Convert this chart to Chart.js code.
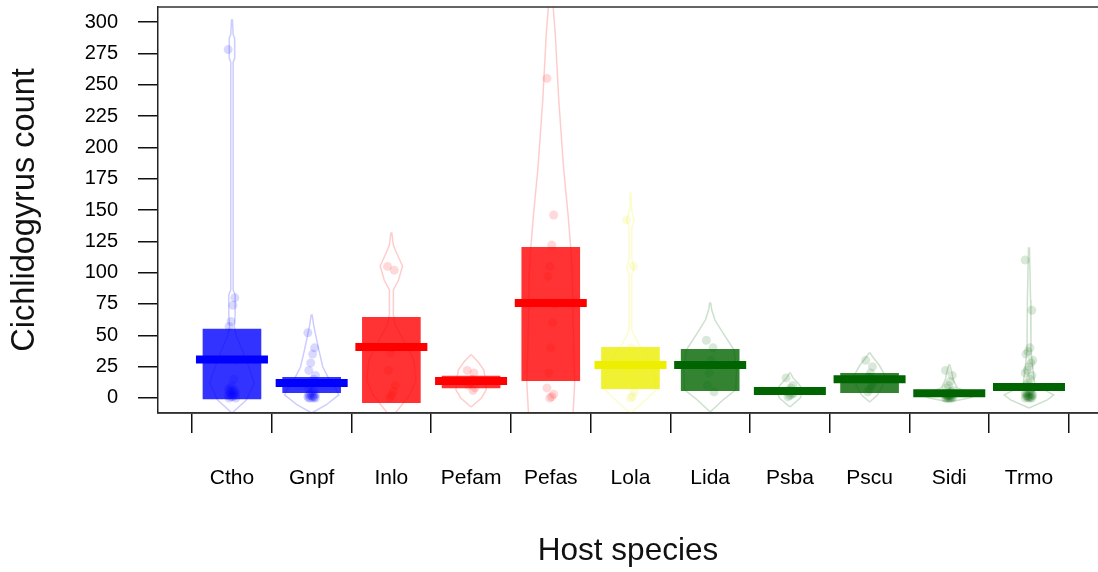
<!DOCTYPE html>
<html>
<head>
<meta charset="utf-8">
<script src="https://cdn.jsdelivr.net/npm/chart.js@4.4.1/dist/chart.umd.min.js"></script>
<style>
  html, body { margin: 0; padding: 0; background: #fff; }
  #wrap { width: 1098px; height: 572px; }
</style>
</head>
<body>
<div id="wrap"><canvas id="pirate"></canvas></div>
<script>
// host species (x categories)
const hosts = ['Ctho', 'Gnpf', 'Inlo', 'Pefam', 'Pefas', 'Lola', 'Lida', 'Psba', 'Pscu', 'Sidi', 'Trmo'];
const hostColor = ['blue', 'blue', 'red', 'red', 'red', 'yellow', 'green', 'green', 'green', 'green', 'green'];

// mean count and inference band per host
const means = [30.7, 12, 40.7, 13.6, 75.8, 26.3, 26.3, 5.6, 14.9, 3.7, 8.7];
const bandLow = [-0.8, 4.2, -3.7, 8, 13.8, 7.4, 5.8, 3.5, 4.2, 2, 6];
const bandHigh = [55, 16.4, 64.4, 17.5, 120.2, 40.4, 38.8, 7.5, 19.7, 5.5, 11];

// raw counts
const counts = [
	[278, 80, 74, 61, 57, 30, 15, 10, 8, 7, 6, 6, 5, 5, 4, 4, 3, 3, 2, 2, 1, 1, 0, 0],
	[52, 40, 35, 28, 22, 18, 15, 12, 10, 8, 6, 5, 4, 3, 3, 2, 2, 2, 1, 1, 1, 0, 0, 0, 0],
	[105, 102, 40, 36, 22, 10, 5, 2, 0],
	[22, 20, 15, 12, 10, 8, 6],
	[255, 146, 122, 105, 97, 75, 60, 40, 20, 8, 3, 1, 0],
	[142, 105, 40, 30, 20, 5, 1, 0],
	[46, 40, 30, 20, 10, 5],
	[16, 10, 8, 6, 5, 4, 3, 2, 1],
	[30, 25, 20, 17, 15, 12, 10, 7, 5],
	[22, 18, 13, 10, 8, 6, 5, 4, 3, 3, 3, 2, 2, 2, 1, 1, 1, 1, 0, 0, 0, 0, 0],
	[110, 70, 40, 37, 35, 30, 28, 25, 22, 20, 18, 15, 12, 10, 8, 6, 5, 4, 4, 3, 3, 2, 2, 2, 1, 1, 1, 0, 0, 0, 0]
];

// bean (density) outline: count levels and half width in category units
const beanLevels = [
	[-12, -1.6, 12, 24.7, 38.3, 50.3, 56.6, 66.2, 82.2, 86.2, 268, 271, 287, 290, 301.6],
	[-12, -5.6, 2.4, 10.4, 16, 24.7, 38.3, 50.3, 58.2, 66.2],
	[-16, -5.6, 2.4, 14.4, 30.3, 46.3, 58.2, 66.2, 86.2, 94.1, 105.3, 116.5, 122, 131.7],
	[-7.2, 0, 6.4, 14.4, 22.3, 28.7, 34.3],
	[-40, -12, 12, 60, 100, 120, 144, 184, 238, 291, 312, 330, 360],
	[-12, -5.6, 6.4, 22.3, 34.3, 42.3, 51.9, 54.3, 98, 104.5, 111.7, 135.6, 142, 150, 163.6],
	[-11.2, -1.6, 6.4, 22.3, 38.3, 51.9, 62.2, 70.2, 75.8],
	[-7.2, 0, 6.4, 12, 16, 20],
	[-3.2, 2.4, 10.4, 18.4, 26.3, 31.9, 35.9],
	[-3.2, 0, 2.4, 4.8, 8, 14.4, 22.3, 26.3],
	[-8, -1.6, 2.4, 6.4, 10.4, 22.3, 38.3, 78.2, 119.7]
];
const beanWidth = [
	[0, 0.18, 0.28, 0.21, 0.13, 0.05, 0.03, 0.04, 0.04, 0.015, 0.015, 0.034, 0.034, 0.015, 0.006],
	[0, 0.18, 0.34, 0.28, 0.21, 0.14, 0.09, 0.05, 0.025, 0.006],
	[0, 0.13, 0.23, 0.31, 0.28, 0.15, 0.05, 0.025, 0.025, 0.09, 0.14, 0.06, 0.025, 0.006],
	[0, 0.13, 0.19, 0.18, 0.16, 0.09, 0.006],
	[0.26, 0.28, 0.30, 0.28, 0.27, 0.25, 0.22, 0.16, 0.10, 0.056, 0.03, 0.02, 0],
	[0, 0.12, 0.32, 0.30, 0.20, 0.11, 0.03, 0.015, 0.015, 0.045, 0.015, 0.015, 0.045, 0.015, 0.006],
	[0, 0.16, 0.32, 0.33, 0.30, 0.16, 0.06, 0.02, 0.006],
	[0, 0.13, 0.17, 0.10, 0.04, 0.006],
	[0, 0.10, 0.17, 0.19, 0.12, 0.05, 0.006],
	[0, 0.25, 0.34, 0.25, 0.10, 0.05, 0.025, 0.006],
	[0, 0.23, 0.31, 0.19, 0.075, 0.05, 0.025, 0.02, 0.006]
];

const yTicks = [0, 25, 50, 75, 100, 125, 150, 175, 200, 225, 250, 275, 300];

const rgb = {
	blue: [0, 0, 255],
	red: [255, 0, 0],
	yellow: [238, 238, 0],
	green: [0, 100, 0]
};
function col(name, a) {
	const c = rgb[name];
	return `rgba(${c[0]}, ${c[1]}, ${c[2]}, ${a})`;
}

const FONT = "'Liberation Sans', Arial, sans-serif";

// build datasets
const datasets = [];

datasets.push({
	type: 'bar',
	label: 'band',
	data: hosts.map((h, i) => ({x: i, y: [bandLow[i], bandHigh[i]]})),
	backgroundColor: hostColor.map(c => col(c, 0.8)),
	borderWidth: 0,
	barThickness: 58,
	order: 2
});

datasets.push({
	type: 'scatter',
	label: 'mean',
	data: hosts.map((h, i) => ({x: i, y: means[i]})),
	pointStyle: 'line',
	pointRadius: 36,
	pointHoverRadius: 36,
	borderWidth: 8,
	borderColor: hostColor.map(c => col(c, 1)),
	order: 0
});

const dots = [];
const dotColors = [];
counts.forEach((arr, i) => {
	arr.forEach((v, k) => {
		dots.push({x: i + (((k * 7) % 9) - 4) * 0.012, y: v});
		dotColors.push(col(hostColor[i], 0.15));
	});
});
datasets.push({
	type: 'scatter',
	label: 'points',
	data: dots,
	pointRadius: 4.5,
	borderWidth: 0,
	backgroundColor: dotColors,
	order: 3
});

beanLevels.forEach((lv, i) => {
	const pts = [];
	for (let k = 0; k < lv.length; k++) pts.push({x: i - beanWidth[i][k], y: lv[k]});
	for (let k = lv.length - 1; k >= 0; k--) pts.push({x: i + beanWidth[i][k], y: lv[k]});
	pts.push(pts[0]);
	datasets.push({
		type: 'line',
		label: 'bean ' + hosts[i],
		data: pts,
		borderColor: col(hostColor[i], 0.2),
		borderWidth: 1.5,
		pointRadius: 0,
		fill: false,
		tension: 0,
		order: 4
	});
});

const frame = {
	id: 'frame',
	afterDraw(chart) {
		const {ctx, chartArea: a} = chart;
		ctx.save();
		ctx.strokeStyle = '#333';
		ctx.lineWidth = 1.5;
		ctx.beginPath();
		ctx.moveTo(a.left, a.top);
		ctx.lineTo(a.right + 2, a.top);
		ctx.moveTo(a.left, a.bottom);
		ctx.lineTo(a.right + 2, a.bottom);
		ctx.stroke();
		ctx.restore();
	}
};

function noPad(s) {
	s.paddingTop = 0;
	s.paddingBottom = 0;
	s.paddingLeft = 0;
	s.paddingRight = 0;
}

new Chart(document.getElementById('pirate'), {
	type: 'bar',
	data: {datasets: datasets},
	plugins: [frame],
	options: {
		responsive: true,
		maintainAspectRatio: false,
		animation: false,
		layout: {autoPadding: false, padding: {top: 7, left: 0, right: 0, bottom: 0}},
		plugins: {
			legend: {display: false},
			tooltip: {enabled: false}
		},
		scales: {
			x: {
				type: 'linear',
				offset: false,
				min: -0.928,
				max: 10.866,
				afterBuildTicks: (s) => { s.ticks = hosts.map((h, i) => ({value: i})); },
				afterFit: (s) => { s.height = 159; noPad(s); },
				grid: {drawOnChartArea: false, drawTicks: true, tickLength: 20, color: '#111', lineWidth: 1.5},
				border: {display: true, color: '#333', width: 1.5},
				ticks: {
					callback: (v) => hosts[v],
					color: '#000',
					padding: 33,
					maxRotation: 0,
					autoSkip: false,
					font: {family: FONT, size: 21}
				},
				title: {
					display: true,
					text: 'Host species',
					color: '#111',
					padding: {top: 0, bottom: 2},
					font: {family: FONT, size: 31.5}
				}
			},
			y: {
				type: 'linear',
				min: -12,
				max: 312,
				afterBuildTicks: (s) => { s.ticks = yTicks.map(v => ({value: v})); },
				afterFit: (s) => { s.width = 158; noPad(s); },
				grid: {drawOnChartArea: false, drawTicks: true, tickLength: 20, color: '#111', lineWidth: 1.5},
				border: {display: true, color: '#222', width: 1.5},
				ticks: {
					color: '#000',
					padding: 20,
					font: {family: FONT, size: 20}
				},
				title: {
					display: true,
					text: 'Cichlidogyrus count',
					color: '#111',
					padding: {top: 6, bottom: 0},
					font: {family: FONT, size: 32.5}
				}
			}
		}
	}
});
</script>
</body>
</html>
